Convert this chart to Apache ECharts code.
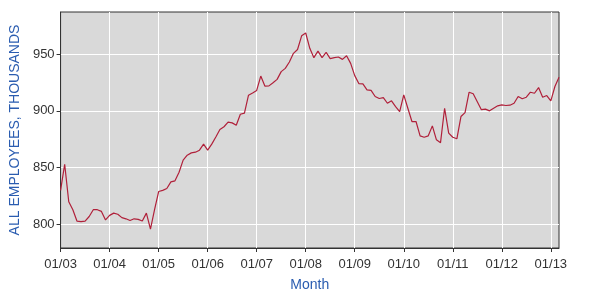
<!DOCTYPE html>
<html>
<head>
<meta charset="utf-8">
<script src="https://cdn.jsdelivr.net/npm/echarts@6/dist/echarts.min.js"></script>
<style>
html,body{margin:0;padding:0;background:#fff;}
#c{width:590px;height:303px;}
</style>
</head>
<body>
<div id="c"></div>
<script>
// Monthly series Jan 2003 .. Mar 2013
var startYear = 2003;
var employees = [
  830, 853, 820, 813, 803, 802.5, 803, 807, 813, 813, 811.5, 804,
  808, 810, 809, 806, 805, 803.5, 805, 804.5, 803, 810, 796, 813,
  829, 830, 831.7, 837.5, 838.4, 846, 856.6, 861, 863, 863.6, 865.4, 870.7,
  865.4, 870.7, 877, 883.6, 886, 890, 889.4, 887.4, 897, 898, 913.8, 915.8,
  918, 930.6, 921.8, 922, 924.8, 927.7, 934.5, 937.4, 943, 950.6, 954, 966,
  968.5, 955, 946.8, 952.6, 946.8, 951.5, 946, 946.8, 947.4, 945.3, 948.5, 941.8,
  931, 924, 923.7, 918.5, 918, 912.6, 910.9, 911.7, 906.7, 908.8, 903.8, 899.4,
  914, 902.3, 890.6, 890.6, 878, 876.8, 878, 886.8, 874.5, 872, 902.3, 880.4,
  876.8, 875.4, 895, 898.5, 916.4, 915, 908, 901, 901.5, 900, 902.3, 904.4,
  905.3, 904.7, 905, 906.7, 912.6, 910.6, 912, 916.4, 915.5, 920.5, 912, 913.5,
  908.8, 921.4, 929.6
];
var yTicks = [800, 850, 900, 950];
var yAxisTitle = 'ALL EMPLOYEES, THOUSANDS';
var xAxisTitle = 'Month';

var months = [];
for (var i = 0; i < employees.length; i++) {
  var y = startYear + Math.floor(i / 12);
  var m = (i % 12) + 1;
  months.push((m < 10 ? '0' : '') + m + '/' + String(y).slice(2));
}

var chart = echarts.init(document.getElementById('c'), null, {renderer: 'canvas'});
chart.setOption({
  animation: false,
  grid: {
    left: 60, top: 12, right: 31, bottom: 55,
    show: true, backgroundColor: '#d9d9d9', borderColor: '#333', borderWidth: 1
  },
  xAxis: {
    type: 'category',
    data: months,
    boundaryGap: false,
    name: xAxisTitle,
    nameLocation: 'middle',
    nameGap: 30,
    nameTextStyle: {color: '#2a5cb0', fontSize: 14, fontFamily: 'Liberation Sans'},
    axisLine: {lineStyle: {color: '#333', width: 1}},
    axisTick: {show: true, interval: 11, length: 4, lineStyle: {color: '#333'}},
    axisLabel: {interval: 11, color: '#333', fontSize: 13, margin: 10, fontFamily: 'Liberation Sans'},
    splitLine: {show: true, interval: 11, lineStyle: {color: '#ffffff', width: 1}}
  },
  yAxis: {
    type: 'value',
    min: 779.3,
    max: 987,
    name: yAxisTitle,
    nameLocation: 'middle',
    nameGap: 33,
    nameTextStyle: {color: '#2a5cb0', fontSize: 14, fontFamily: 'Liberation Sans'},
    axisLine: {show: true, lineStyle: {color: '#333', width: 1}},
    axisTick: {show: true, length: 4, customValues: yTicks, lineStyle: {color: '#333'}},
    axisLabel: {customValues: yTicks, color: '#333', fontSize: 13, margin: 6, fontFamily: 'Liberation Sans'},
    splitLine: {show: true, lineStyle: {color: '#ffffff', width: 1}}
  },
  series: [{
    type: 'line',
    data: employees,
    symbol: 'none',
    lineStyle: {color: '#b0203a', width: 1.2}
  }]
});
</script>
</body>
</html>
